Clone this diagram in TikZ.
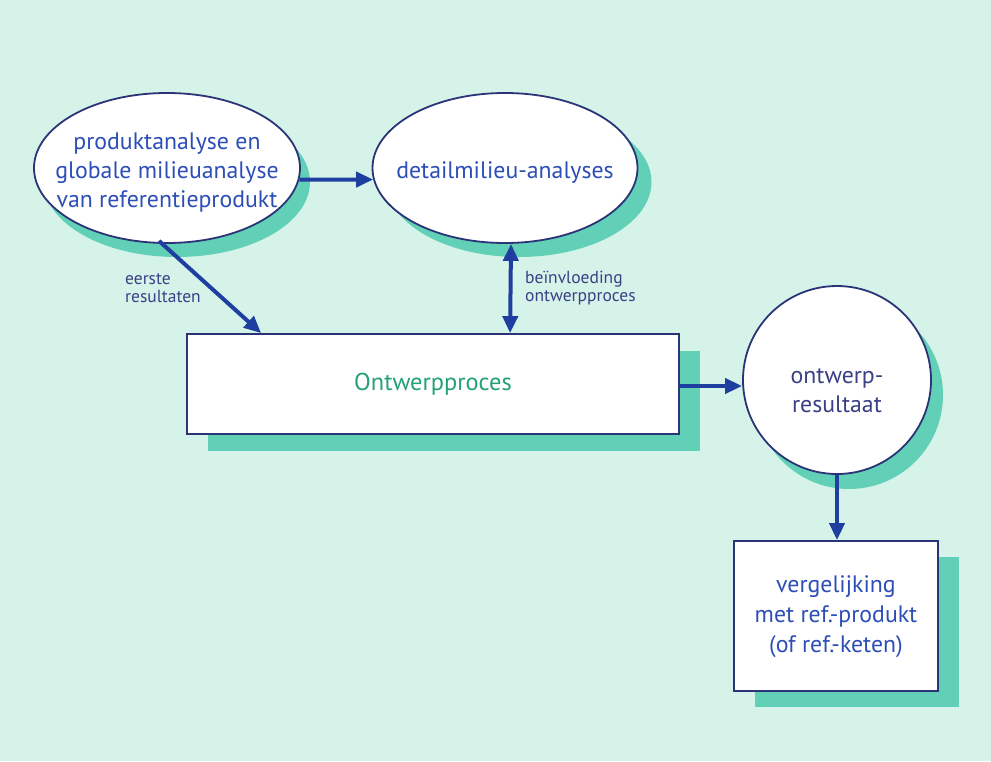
\documentclass[tikz,border=0pt]{standalone}
\usepackage{fontspec}
\setmainfont{PT Sans}
\usetikzlibrary{arrows.meta,shapes.geometric,shadows,calc}
\definecolor{bgc}{RGB}{214,243,234}
\definecolor{shadowc}{RGB}{98,208,182}
\definecolor{linec}{RGB}{42,52,118}
\definecolor{arrowc}{RGB}{30,62,160}
\definecolor{textc}{RGB}{45,78,182}
\definecolor{navytext}{RGB}{58,64,132}
\definecolor{greentext}{RGB}{36,160,122}
% lowered text block that does not change the size of its node
\newcommand{\lowered}[2]{\raisebox{-#1}[0pt][0pt]{\begin{tabular}{@{}c@{}}#2\end{tabular}}}
\tikzset{
  shape outline/.style={draw=linec, line width=1.8pt, fill=white, inner sep=-40pt, align=center},
  bubble/.style={shape outline, ellipse, text=textc, font=\fontsize{23.8}{29}\selectfont},
  roundbox/.style={shape outline, circle, text=navytext, font=\fontsize{23.8}{29}\selectfont},
  panel/.style={shape outline, rectangle, inner sep=0pt, text=textc, font=\fontsize{23.8}{30}\selectfont},
  shade/.style 2 args={drop shadow={shadow xshift=#1pt, shadow yshift=-#2pt, fill=shadowc, opacity=1}},
  flow/.style={draw=arrowc, line width=4pt, -{Triangle[length=17pt,width=15pt]}},
  twoway/.style={draw=arrowc, line width=4pt, {Triangle[length=17pt,width=15pt]}-{Triangle[length=17pt,width=15pt]}},
  note/.style={text=navytext, align=left, inner sep=0pt, font=\fontsize{17.5}{18.5}\selectfont}
}
\begin{document}
\begin{tikzpicture}[x=1pt,y=-1pt]
% page and background
\fill[bgc] (0,0) rectangle (991,761);
\useasboundingbox (0,0) rectangle (991,761);

% nodes
\node[bubble, shade={10}{14}, minimum width=266, minimum height=150] (prod) at (167,168)
  {\lowered{11pt}{produktanalyse en\\globale milieuanalyse\\van referentieprodukt}};
\node[bubble, shade={14}{14}, minimum width=265, minimum height=150] (detail) at (505,168)
  {\lowered{11pt}{detailmilieu-analyses}};
\node[panel, shade={21}{17}, minimum width=492, minimum height=100, text=greentext,
  font=\fontsize{24.4}{29}\selectfont] (proc) at (433,384) {Ontwerpproces};
\node[roundbox, shade={12}{15}, minimum size=188] (res) at (837,380)
  {\lowered{18pt}{ontwerp-\\resultaat}};
\node[panel, shade={21}{16}, minimum width=204, minimum height=150] (cmp) at (836,616)
  {\lowered{7pt}{vergelijking\\met ref.-produkt\\(of ref.-keten)}};

% connectors
\coordinate (procout) at ($(proc.east)+(0,2)$);
\draw[flow] (prod.-5.2) -- (detail.185.2);
\draw[flow] ($(prod.south)+(-8,-3)$) -- ($(proc.north west)+(75,0)$);
\draw[twoway] ($(detail.south)+(6,0)$) -- ($(proc.north west)+(324,0)$);
\draw[flow] (procout) -- (procout -| res.west);
\draw[flow] (res.south) -- (res.south |- cmp.north);

% connector labels
\node[note, anchor=west] (first) at (125,288) {eerste\\resultaten};
\node[note, anchor=west] (influence) at (525,288) {beïnvloeding\\ontwerpproces};
\end{tikzpicture}
\end{document}
